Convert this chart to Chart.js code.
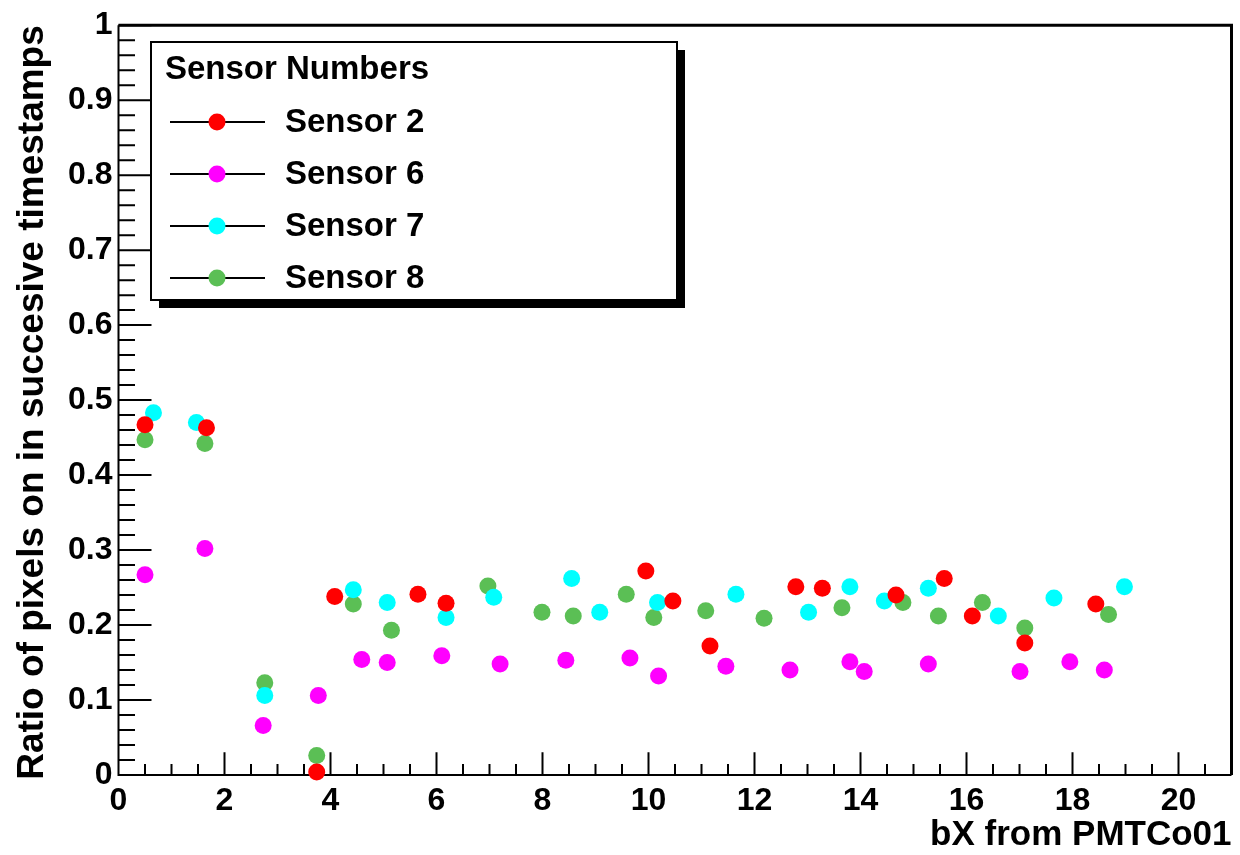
<!DOCTYPE html>
<html>
<head>
<meta charset="utf-8">
<script src="https://cdn.jsdelivr.net/npm/chart.js@4"></script>
<style>
    html, body { margin: 0; padding: 0; background: #fff; }
</style>
</head>
<body>
<canvas id="graphique" width="1240" height="855"></canvas>
<script>
// Données
const sensorLabels = ['Sensor 2', 'Sensor 6', 'Sensor 7', 'Sensor 8'];
const sensorColors = ['#ff0000', '#ff00ff', '#00ffff', '#5bbf55'];

const sensor2X = [0.5, 1.66, 3.74, 4.08, 5.65, 6.18, 9.95, 10.46, 11.16, 12.78, 13.28, 14.67, 15.58, 16.11, 17.10, 18.44];
const sensor2Y = [0.467, 0.463, 0.004, 0.238, 0.241, 0.229, 0.272, 0.232, 0.172, 0.251, 0.249, 0.240, 0.262, 0.212, 0.176, 0.228];

const sensor6X = [0.5, 1.63, 2.73, 3.77, 4.59, 5.07, 6.10, 7.20, 8.44, 9.65, 10.19, 11.46, 12.67, 13.80, 14.07, 15.28, 17.01, 17.95, 18.60];
const sensor6Y = [0.267, 0.302, 0.066, 0.106, 0.154, 0.150, 0.159, 0.148, 0.153, 0.156, 0.132, 0.145, 0.140, 0.151, 0.138, 0.148, 0.138, 0.151, 0.140];

const sensor7X = [0.66, 1.47, 2.76, 4.43, 5.07, 6.18, 7.08, 8.55, 9.08, 10.17, 11.65, 13.02, 13.80, 14.45, 15.28, 16.60, 17.65, 18.98];
const sensor7Y = [0.483, 0.470, 0.106, 0.247, 0.230, 0.210, 0.237, 0.262, 0.217, 0.230, 0.241, 0.217, 0.251, 0.232, 0.249, 0.212, 0.236, 0.251];

const sensor8X = [0.5, 1.63, 2.76, 3.74, 4.43, 5.15, 6.97, 7.99, 8.58, 9.58, 10.10, 11.08, 12.18, 13.65, 14.80, 15.47, 16.30, 17.10, 18.68];
const sensor8Y = [0.447, 0.442, 0.123, 0.026, 0.228, 0.193, 0.252, 0.217, 0.212, 0.241, 0.210, 0.219, 0.209, 0.223, 0.230, 0.212, 0.230, 0.196, 0.214];

const sensorXs = [sensor2X, sensor6X, sensor7X, sensor8X];
const sensorYs = [sensor2Y, sensor6Y, sensor7Y, sensor8Y];

// Axes
const xMin = 0, xMax = 21, xStep = 2, xMinorStep = 0.5;
const yMin = 0, yMax = 1, yStep = 0.1, yMinorStep = 0.02;

const FONT = "'Liberation Sans', Arial, Helvetica, sans-serif";

// Graduations et cadre façon ROOT (ticks vers l'intérieur)
const rootAxes = {
    id: 'rootAxes',
    beforeDatasetsDraw(chart) {
        const { ctx, chartArea: a, scales: { x, y } } = chart;
        ctx.save();
        ctx.strokeStyle = '#000';
        ctx.lineWidth = 2;
        ctx.beginPath();
        const nY = Math.round((yMax - yMin) / yMinorStep);
        const ratioY = Math.round(yStep / yMinorStep);
        for (let i = 0; i <= nY; i++) {
            const py = y.getPixelForValue(yMin + i * yMinorStep);
            const len = i % ratioY === 0 ? 33 : 16.5;
            ctx.moveTo(a.left, py);
            ctx.lineTo(a.left + len, py);
        }
        const nX = Math.round((xMax - xMin) / xMinorStep);
        const ratioX = Math.round(xStep / xMinorStep);
        for (let i = 0; i <= nX; i++) {
            const px = x.getPixelForValue(xMin + i * xMinorStep);
            const len = i % ratioX === 0 ? 22.7 : 11;
            ctx.moveTo(px, a.bottom);
            ctx.lineTo(px, a.bottom - len);
        }
        // axes gauche et bas
        ctx.moveTo(a.left, a.top);
        ctx.lineTo(a.left, a.bottom);
        ctx.lineTo(a.right, a.bottom);
        ctx.stroke();
        // bords haut et droit
        ctx.lineWidth = 3;
        ctx.beginPath();
        ctx.moveTo(a.left, a.top);
        ctx.lineTo(a.right, a.top);
        ctx.lineTo(a.right, a.bottom);
        ctx.stroke();
        ctx.restore();
    }
};

// Légende avec ombre, dans la zone du graphique
const rootLegend = {
    id: 'rootLegend',
    afterDatasetsDraw(chart) {
        const { ctx } = chart;
        const bx = 151, by = 42, bw = 526, bh = 258, shadow = 8;
        ctx.save();
        ctx.fillStyle = '#000';
        ctx.fillRect(bx + shadow, by + shadow, bw, bh);
        ctx.fillStyle = '#fff';
        ctx.fillRect(bx, by, bw, bh);
        ctx.strokeStyle = '#000';
        ctx.lineWidth = 2;
        ctx.strokeRect(bx, by, bw, bh);

        ctx.fillStyle = '#000';
        ctx.textBaseline = 'middle';
        ctx.font = 'bold 33px ' + FONT;
        ctx.fillText('Sensor Numbers', 165, 70);

        chart.data.datasets.forEach((ds, i) => {
            const ly = 122 + i * 52;
            ctx.strokeStyle = '#000';
            ctx.lineWidth = 2;
            ctx.beginPath();
            ctx.moveTo(170, ly);
            ctx.lineTo(265, ly);
            ctx.stroke();
            ctx.fillStyle = ds.backgroundColor;
            ctx.beginPath();
            ctx.arc(217, ly, 8.5, 0, Math.PI * 2);
            ctx.fill();
            ctx.fillStyle = '#000';
            ctx.fillText(ds.label, 285, ly + 1);
        });
        ctx.restore();
    }
};

const ctx = document.getElementById('graphique').getContext('2d');
new Chart(ctx, {
    type: 'scatter',
    data: {
        datasets: sensorLabels.map((label, i) => ({
            label: label,
            data: sensorXs[i].map((xv, j) => ({ x: xv, y: sensorYs[i][j] })),
            backgroundColor: sensorColors[i],
            borderColor: sensorColors[i],
            pointRadius: 8.5,
            pointHoverRadius: 8.5,
            pointBorderWidth: 0,
            clip: false
        }))
    },
    options: {
        responsive: false,
        animation: false,
        devicePixelRatio: 1,
        layout: { padding: { top: 19, right: 7, left: 0, bottom: 0 } },
        plugins: {
            legend: { display: false },
            tooltip: { enabled: false }
        },
        scales: {
            x: {
                type: 'linear',
                min: xMin,
                max: xMax,
                grid: { display: false, drawTicks: false },
                border: { display: false },
                ticks: {
                    stepSize: xStep,
                    includeBounds: false,
                    maxRotation: 0,
                    padding: 7,
                    color: '#000',
                    font: { family: FONT, size: 32, weight: 'bold' },
                    callback: v => v
                },
                title: {
                    display: true,
                    text: 'bX from PMTCo01',
                    align: 'end',
                    color: '#000',
                    font: { family: FONT, size: 35, weight: 'bold', lineHeight: 1 },
                    padding: { top: 0, bottom: 2 }
                },
                afterFit: scale => { scale.height = 80; }
            },
            y: {
                type: 'linear',
                min: yMin,
                max: yMax,
                grid: { display: false, drawTicks: false },
                border: { display: false },
                ticks: {
                    stepSize: yStep,
                    padding: 6,
                    color: '#000',
                    font: { family: FONT, size: 32, weight: 'bold' },
                    callback: v => +v.toFixed(1)
                },
                title: {
                    display: true,
                    text: 'Ratio of pixels on in succesive timestamps',
                    align: 'end',
                    color: '#000',
                    font: { family: FONT, size: 37, weight: 'bold', lineHeight: 1 },
                    padding: { top: 14, bottom: 0 }
                },
                afterFit: scale => { scale.width = 118.5; }
            }
        }
    },
    plugins: [rootAxes, rootLegend]
});
</script>
</body>
</html>
